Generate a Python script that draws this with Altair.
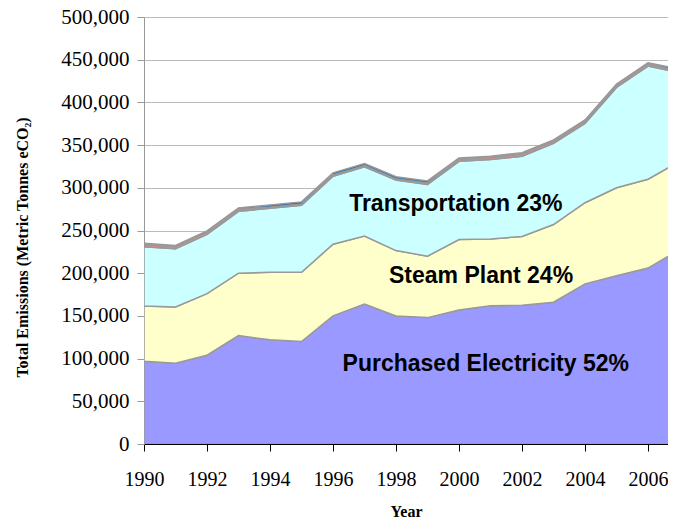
import altair as alt
import pandas as pd

years = list(range(1990, 2008))
series_names = ["Purchased Electricity", "Steam Plant", "Transportation", "Other A", "Other B"]
series_colors = ["#9999FF", "#FFFFCC", "#CCFFFF", "#FF8080", "#0066CC"]

# emissions by source (metric tonnes eCO2)
electricity = [97000, 94500, 104000, 127000, 122000, 120000, 150000, 164000, 150000,
               148000, 157000, 162000, 162500, 166000, 187500, 197000, 206000, 227500]
steam = [64500, 66000, 72000, 73000, 79000, 81000, 84000, 79500, 76500,
         72000, 82500, 78000, 80500, 91000, 95000, 103000, 104000, 103500]
transportation = [69500, 68000, 69500, 72500, 75000, 78500, 79500, 81000, 82500,
                  84000, 91500, 93000, 94000, 95000, 93000, 117500, 132500, 104000]
other_a = [2500, 2500, 2500, 2500, 1500, 1500, 1500, 1500, 1500,
           1500, 2500, 2500, 2500, 2500, 2500, 2500, 2500, 1500]
other_b = [1500, 1500, 1500, 1500, 2500, 2500, 2500, 2500, 2500,
           2500, 1500, 1500, 1500, 1500, 1500, 1500, 1500, 2500]

y_ticks = list(range(0, 500001, 50000))
x_ticks = list(range(1990, 2007))

labels = ["Transportation 23%", "Steam Plant 24%", "Purchased Electricity 52%"]
label_years = [1999.9, 2000.7, 2000.85]
label_values = [273000, 189000, 86000]

rows = []
for i, (name, vals) in enumerate(zip(series_names,
                                     [electricity, steam, transportation, other_a, other_b])):
    for y, v in zip(years, vals):
        rows.append({"Year": y, "Source": name, "Emissions": v, "order": i})
df = pd.DataFrame(rows)

lab_df = pd.DataFrame({"label": labels, "Year": label_years, "Emissions": label_values})

PLOT_W = 524
x_scale = alt.Scale(domain=[1990, 1990 + PLOT_W / 31.5], nice=False, zero=False)
y_scale = alt.Scale(domain=[0, 500000], nice=False)

areas = alt.Chart(df).mark_area(
    stroke="#999999", strokeWidth=1.5, clip=True, interpolate="linear"
).encode(
    x=alt.X("Year:Q", scale=x_scale,
            axis=alt.Axis(values=x_ticks, title="Year",
                          labelExpr="datum.value % 2 == 0 ? format(datum.value, 'd') : ''",
                          grid=False, domainColor="#000000", tickColor="#000000",
                          tickSize=7, labelPadding=18, labelFont="Liberation Serif",
                          labelFontSize=20, labelColor="#000000", labelFlush=False,
                          titleFont="Liberation Serif", titleFontSize=16,
                          titleFontWeight="bold", titleColor="#000000",
                          titleY=67, titleBaseline="middle")),
    y=alt.Y("Emissions:Q", stack="zero", scale=y_scale,
            axis=alt.Axis(values=y_ticks, format=",d",
                          title="Total Emissions (Metric Tonnes eCO₂)",
                          grid=True, gridColor="#BBBBBB", gridWidth=1,
                          domainColor="#999999", tickColor="#999999", tickSize=7,
                          labelPadding=8, labelFont="Liberation Serif", labelFontSize=21,
                          labelColor="#000000",
                          titleFont="Liberation Serif", titleFontSize=16,
                          titleFontWeight="bold", titleColor="#000000",
                          titleAngle=270, titleAlign="center", titleBaseline="middle",
                          titleX=-122, titleY=230)),
    color=alt.Color("Source:N", scale=alt.Scale(domain=series_names, range=series_colors),
                    legend=None),
    order=alt.Order("order:Q"),
)

texts = alt.Chart(lab_df).mark_text(
    font="Liberation Sans", fontSize=23, fontWeight="bold", color="#000000",
    align="center", baseline="alphabetic"
).encode(
    x=alt.X("Year:Q", scale=x_scale),
    y=alt.Y("Emissions:Q", scale=y_scale),
    text="label:N",
)

chart = alt.layer(areas, texts).properties(
    width=PLOT_W, height=427,
    autosize=alt.AutoSizeParams(type="none"),
    padding={"left": 136, "top": 9, "right": 0, "bottom": 75},
).configure_view(strokeWidth=0).configure(background="#FFFFFF")

chart.save("out.html", embed_options={"renderer": "svg", "actions": False})
